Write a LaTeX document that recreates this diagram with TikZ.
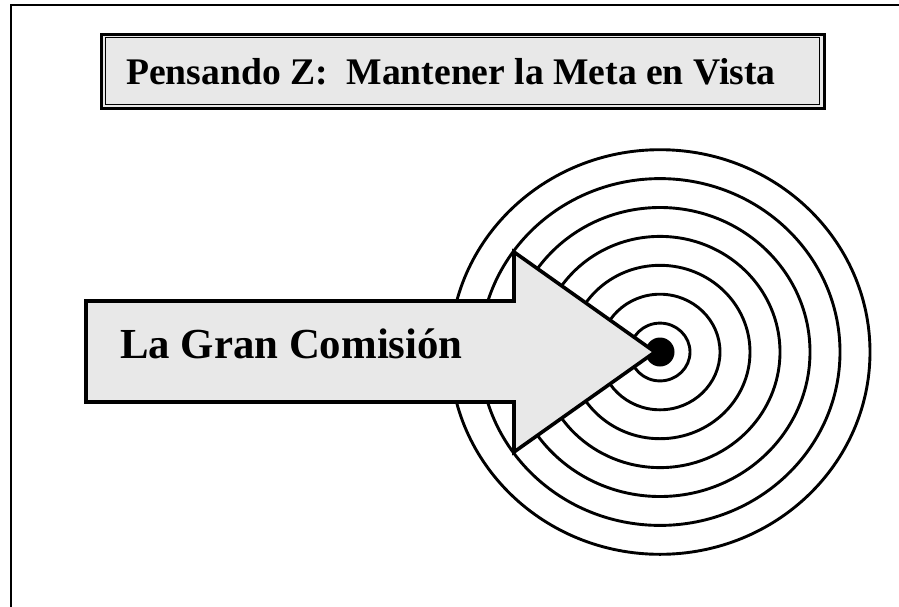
\documentclass[tikz,border=0pt]{standalone}
\usepackage{fontspec}
\setmainfont{Liberation Serif}
\definecolor{panelgray}{HTML}{E8E8E8}

\tikzset{
	frameline/.style={line width=2.5pt, line join=miter},
	ringline/.style={line width=2.9pt},
	boxline/.style={draw=black, fill=panelgray, line width=3pt, inner sep=0pt},
	arrowline/.style={draw=black, fill=panelgray, line width=3.6pt, line join=miter},
}

\begin{document}
\begin{tikzpicture}[x=1pt,y=-1pt]
		\useasboundingbox (0,0) rectangle (899,606);
		
		% page frame, only left and top edges show
		\draw[frameline] (11,610) -- (11,5) -- (903,5);
		
		% title box with double border
		\node[boxline, minimum width=723pt, minimum height=74pt] (titlebox) at (462.5,71) {};
		\draw[line width=1.6pt] ([shift={(6,5)}]titlebox.north west) rectangle ([shift={(-6,-5)}]titlebox.south east);
		\node[anchor=base west, inner sep=0pt, font=\fontsize{37.6}{44}\selectfont\bfseries] (titletext) at (126,84) {Pensando Z:\ \ Mantener la Meta en Vista};
		
		% target
		\coordinate (bull) at (660,352);
		\foreach \k in {1,...,7}
			\draw[ringline] (bull) ellipse [x radius={\k*30pt}, y radius={\k*28.9pt}];
		\node[circle, fill=black, minimum size=29pt, inner sep=0pt] (bullseye) at (bull) {};
		
		% the big arrow
		\draw[arrowline] (86,301) -- (514,301) -- (514,252) -- ([xshift=-5pt]bullseye.center)
			-- (514,452) -- (514,402) -- (86,402) -- cycle;
		\node[anchor=base west, inner sep=0pt, font=\fontsize{42.8}{50}\selectfont\bfseries] (mission) at (120,358) {La Gran Comisión};
		\end{tikzpicture}
\end{document}
